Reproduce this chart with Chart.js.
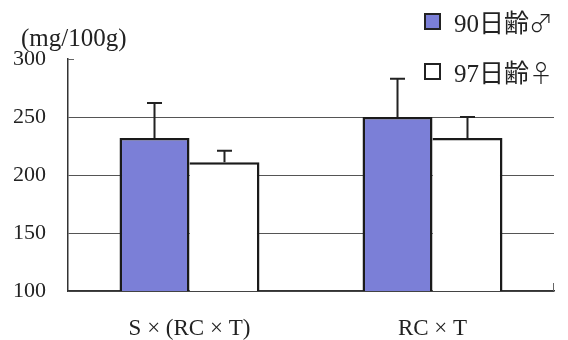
<!DOCTYPE html>
<html>
<head>
<meta charset="utf-8">
<script src="https://cdn.jsdelivr.net/npm/chart.js@4"></script>
<style>
  body { margin: 0; background: #fff; }
  #wrap { position: relative; width: 568px; height: 340px; }
  .txt { position: absolute; font-family: 'Liberation Serif', 'Noto Sans CJK JP', serif; color: #222; white-space: nowrap; }
  #unit { left: 21px; top: 24px; font-size: 25px; }
  .leg { position: absolute; left: 424px; height: 28px; display: flex; align-items: center; font-size: 25px; }
  .leg .box { width: 13px; height: 13px; border: 2px solid #222; margin-right: 13px; }
  .leg .sym { font-family: 'Noto Sans CJK JP', sans-serif; font-size: 24px; font-weight: 300; }
</style>
</head>
<body>
<div id="wrap">
  <canvas id="chart" width="568" height="340"></canvas>
  <div id="unit" class="txt">(mg/100g)</div>
  <div id="legend"></div>
</div>
<script>
// Data
const categories = ['S × (RC × T)', 'RC × T'];
const seriesNames = ['90日齢', '97日齢'];
const seriesSymbols = ['♂', '♀'];
const male90 = [232, 250];
const male90Err = [30, 33];
const female97 = [211, 232];
const female97Err = [10, 18];
const yTicks = [100, 150, 200, 250, 300];

const barColors = ['#7b7fd7', '#ffffff'];

// Legend (HTML)
const legendEl = document.getElementById('legend');
seriesNames.forEach((name, i) => {
  const row = document.createElement('div');
  row.className = 'leg txt';
  row.style.top = (7 + i * 50) + 'px';
  row.innerHTML = `<span class="box" style="background:${barColors[i]}"></span><span>${name}</span><span class="sym">${seriesSymbols[i]}</span>`;
  legendEl.appendChild(row);
});

// Error bars + small axis end ticks
const errorBars = {
  id: 'errorBars',
  afterDatasetsDraw(chart) {
    const { ctx, chartArea, scales: { y } } = chart;
    ctx.save();
    ctx.strokeStyle = '#222';
    ctx.lineWidth = 2;
    chart.data.datasets.forEach((ds, di) => {
      const meta = chart.getDatasetMeta(di);
      meta.data.forEach((bar, i) => {
        const top = y.getPixelForValue(ds.data[i] + ds.errors[i]);
        ctx.beginPath();
        ctx.moveTo(bar.x, bar.y);
        ctx.lineTo(bar.x, top);
        ctx.moveTo(bar.x - 7.5, top);
        ctx.lineTo(bar.x + 7.5, top);
        ctx.stroke();
      });
    });
    // tiny end ticks seen in the original figure
    ctx.strokeStyle = '#666';
    ctx.lineWidth = 1;
    ctx.beginPath();
    ctx.moveTo(chartArea.left, chartArea.top + 0.5);
    ctx.lineTo(chartArea.left + 6, chartArea.top + 0.5);
    ctx.moveTo(chartArea.right - 0.5, chartArea.bottom);
    ctx.lineTo(chartArea.right - 0.5, chartArea.bottom - 8);
    ctx.stroke();
    ctx.restore();
  }
};

new Chart(document.getElementById('chart'), {
  type: 'bar',
  data: {
    labels: categories,
    datasets: [
      { label: seriesNames[0], data: male90, errors: male90Err, backgroundColor: barColors[0], borderSkipped: 'start' },
      { label: seriesNames[1], data: female97, errors: female97Err, backgroundColor: barColors[1], borderSkipped: 'left' }
    ].map(ds => ({
      ...ds,
      borderColor: '#1a1a1a',
      borderWidth: 2.5,
      barPercentage: 1,
      categoryPercentage: 0.576
    }))
  },
  options: {
    responsive: false,
    animation: false,
    layout: { padding: { top: 59, right: 14, left: 0, bottom: 0 } },
    plugins: { legend: { display: false }, tooltip: { enabled: false } },
    scales: {
      x: {
        afterFit: s => { s.height = 49; },
        grid: { display: false, drawTicks: false },
        border: { display: true, color: '#333', width: 1.5 },
        ticks: {
          padding: 24,
          color: '#222',
          font: { family: "'Liberation Serif', serif", size: 23 }
        }
      },
      y: {
        min: 100,
        max: 300,
        afterFit: s => { s.width = 68; },
        afterBuildTicks: s => { s.ticks = yTicks.map(v => ({ value: v })); },
        grid: {
          drawTicks: false,
          color: c => (c.tick && c.tick.value === 300 ? 'rgba(0,0,0,0)' : '#555'),
          lineWidth: 1
        },
        border: { display: true, color: '#333', width: 1.5 },
        ticks: {
          padding: 22,
          color: '#222',
          font: { family: "'Liberation Serif', serif", size: 22 }
        }
      }
    }
  },
  plugins: [errorBars]
});
</script>
</body>
</html>
